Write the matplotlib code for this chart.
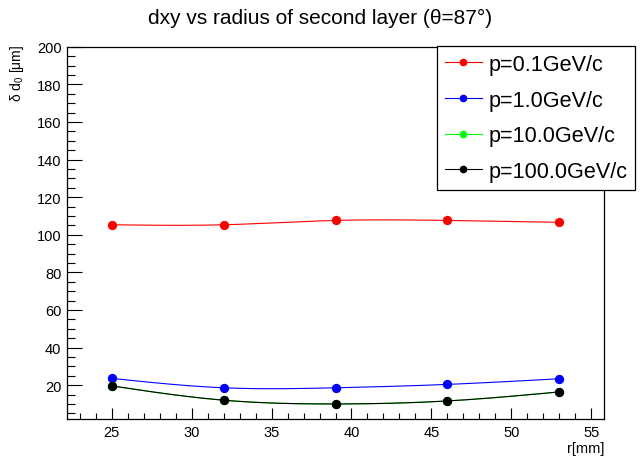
import numpy as np
import matplotlib
matplotlib.use("Agg")
import matplotlib.pyplot as plt
from matplotlib.ticker import MultipleLocator

plt.rcParams['font.family'] = ['Liberation Sans', 'DejaVu Sans']
plt.rcParams['mathtext.fontset'] = 'custom'
plt.rcParams['mathtext.rm'] = 'Liberation Sans'
plt.rcParams['mathtext.it'] = 'Liberation Sans:italic'

# radius of the second layer [mm]
radius = [25, 32, 39, 46, 53]

# d0 resolution [um] for each momentum
d0_p01 = [105.3, 105.3, 107.6, 107.6, 106.6]
d0_p1 = [23.6, 18.6, 18.6, 20.4, 23.4]
d0_p10 = [19.6, 12.0, 10.0, 11.6, 16.4]
d0_p100 = [19.6, 12.0, 10.0, 11.6, 16.4]

labels = ["p=0.1GeV/c", "p=1.0GeV/c", "p=10.0GeV/c", "p=100.0GeV/c"]
colors = ["#ff0000", "#0000ff", "#00ff00", "#000000"]


def smooth(x, y, n=300):
    # natural cubic spline through the points, like the "C" draw option
    x = np.asarray(x, float)
    y = np.asarray(y, float)
    h = np.diff(x)
    m = len(x)
    A = np.zeros((m, m))
    b = np.zeros(m)
    A[0, 0] = A[-1, -1] = 1
    for i in range(1, m - 1):
        A[i, i - 1] = h[i - 1]
        A[i, i] = 2 * (h[i - 1] + h[i])
        A[i, i + 1] = h[i]
        b[i] = 3 * ((y[i + 1] - y[i]) / h[i] - (y[i] - y[i - 1]) / h[i - 1])
    c = np.linalg.solve(A, b)
    bb = (y[1:] - y[:-1]) / h - h * (2 * c[:-1] + c[1:]) / 3
    d = (c[1:] - c[:-1]) / (3 * h)
    xs = np.linspace(x[0], x[-1], n)
    idx = np.clip(np.searchsorted(x, xs) - 1, 0, m - 2)
    t = xs - x[idx]
    ys = y[idx] + bb[idx] * t + c[idx] * t ** 2 + d[idx] * t ** 3
    return xs, ys


fig = plt.figure(figsize=(6.4, 4.6), dpi=100)
ax = fig.add_axes([67 / 640, 1 - 420 / 460, (604 - 67) / 640, (420 - 47.7) / 460])

for vals, lab, col in zip([d0_p01, d0_p1, d0_p10, d0_p100], labels, colors):
    xs, ys = smooth(radius, vals)
    ax.plot(xs, ys, color=col, lw=0.8)
    ax.plot(radius, vals, 'o', color=col, ms=5.7)
    ax.plot([], [], '-o', color=col, ms=4.5, lw=0.8, label=lab)

ax.set_xlim(22.2, 55.8)
ax.set_ylim(2, 200)

ax.xaxis.set_major_locator(MultipleLocator(5))
ax.xaxis.set_minor_locator(MultipleLocator(1))
ax.yaxis.set_major_locator(MultipleLocator(20))
ax.yaxis.set_minor_locator(MultipleLocator(5))
ax.tick_params(axis='both', which='both', direction='in', labelsize=10.5)
ax.tick_params(axis='y', which='major', length=11, width=0.8, pad=4)
ax.tick_params(axis='y', which='minor', length=6, width=0.8)
ax.tick_params(axis='x', which='major', length=8, width=0.8, pad=4)
ax.tick_params(axis='x', which='minor', length=4, width=0.8)
ax.set_yticks([20, 40, 60, 80, 100, 120, 140, 160, 180, 200])
for s in ax.spines.values():
    s.set_linewidth(0.9)

ax.set_xlabel("r[mm]", loc='right', fontsize=10.5, labelpad=2)
fig.text(17 / 640, 1 - 45 / 460, "δ d$_\\mathrm{0}$ [μm]", rotation=90,
         ha='center', va='top', fontsize=10)

fig.suptitle("dxy vs radius of second layer (θ=87°)", x=0.5, y=1 - 18 / 460,
             va='center', fontsize=15)

leg = ax.legend(loc='upper left', bbox_to_anchor=(437 / 640, 1 - 47 / 460),
                bbox_transform=fig.transFigure, fontsize=15.6, frameon=True,
                fancybox=False, framealpha=1, edgecolor='black',
                handlelength=1.7, handletextpad=0.3, labelspacing=0.68,
                borderpad=0.36, borderaxespad=0)
leg.get_frame().set_linewidth(0.9)

fig.savefig("out.png", dpi=100)
